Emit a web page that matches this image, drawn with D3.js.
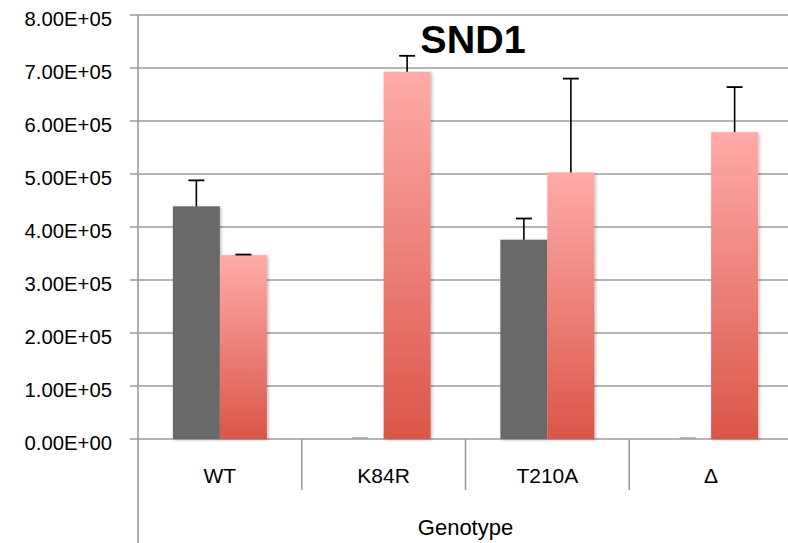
<!DOCTYPE html>
<html>
<head>
<meta charset="utf-8">
<script src="https://cdn.jsdelivr.net/npm/d3@7"></script>
<style>
  html, body { margin: 0; padding: 0; background: #fff; }
  svg { display: block; }
  text { font-family: "Liberation Sans", Arial, sans-serif; fill: #000; }
</style>
</head>
<body>
<svg id="chart" width="788" height="543"></svg>
<script>
// ---- data ----
const categories = ["WT", "K84R", "T210A", "\u0394"];
const seriesNames = ["control", "treated"];
const grayValues = [4.39e5, 0, 3.76e5, 0];
const grayErrors = [0.49e5, 0, 0.40e5, 0];
const pinkValues = [3.47e5, 6.93e5, 5.03e5, 5.79e5];
const pinkErrors = [0.01e5, 0.30e5, 1.77e5, 0.85e5];
const yTicks = [0, 1e5, 2e5, 3e5, 4e5, 5e5, 6e5, 7e5, 8e5];
const titleText = "SND1";
const xAxisTitle = "Genotype";

// ---- layout ----
const W = 788, H = 543;
const plotLeft = 138, plotRight = 793, plotTop = 15, plotBottom = 439;

const svg = d3.select("#chart");

const defs = svg.append("defs");
const grad = defs.append("linearGradient").attr("id", "pinkGrad")
  .attr("x1", 0).attr("y1", 0).attr("x2", 0).attr("y2", 1);
grad.append("stop").attr("offset", "0%").attr("stop-color", "#FFABA8");
grad.append("stop").attr("offset", "100%").attr("stop-color", "#DA5649");
grad.attr("gradientUnits", "objectBoundingBox");

const shadow = defs.append("filter").attr("id", "shadow")
  .attr("x", "-20%").attr("y", "-5%").attr("width", "150%").attr("height", "115%");
shadow.append("feDropShadow").attr("dx", 1.5).attr("dy", 1).attr("stdDeviation", 1.5)
  .attr("flood-color", "#000").attr("flood-opacity", 0.25);

const y = d3.scaleLinear().domain([0, 8e5]).range([plotBottom, plotTop]);
const x0 = d3.scaleBand().domain(categories).range([plotLeft, plotRight]).paddingInner(0).paddingOuter(0);
const x1 = d3.scaleBand().domain(seriesNames).range([0, x0.bandwidth()]).paddingInner(0).paddingOuter(0.742);

// gridlines
const fmt = v => {
  const e = v === 0 ? 0 : Math.floor(Math.log10(v));
  const m = v === 0 ? 0 : v / Math.pow(10, e);
  return m.toFixed(2) + "E+" + String(e).padStart(2, "0");
};

const grid = svg.append("g");
grid.selectAll("line").data(yTicks).join("line")
  .attr("x1", plotLeft - 8).attr("x2", W)
  .attr("y1", d => y(d)).attr("y2", d => y(d))
  .attr("stroke", "#9c9c9c").attr("stroke-width", 1.6);

grid.selectAll("text").data(yTicks).join("text")
  .attr("x", 112).attr("y", d => y(d) + 11)
  .attr("text-anchor", "end")
  .attr("font-size", 20.3)
  .text(d => fmt(d));

// y axis line
svg.append("line")
  .attr("x1", plotLeft).attr("x2", plotLeft)
  .attr("y1", plotTop).attr("y2", H)
  .attr("stroke", "#9c9c9c").attr("stroke-width", 1.6);

// category separators
const seps = categories.slice(1).map(c => x0(c));
svg.append("g").selectAll("line").data(seps).join("line")
  .attr("x1", d => d).attr("x2", d => d)
  .attr("y1", plotBottom).attr("y2", 490)
  .attr("stroke", "#9c9c9c").attr("stroke-width", 1.6);

// bars
const rows = categories.map((c, i) => ({
  cat: c,
  items: [
    { s: "control", v: grayValues[i], e: grayErrors[i] },
    { s: "treated", v: pinkValues[i], e: pinkErrors[i] }
  ]
}));

const groups = svg.append("g").selectAll("g").data(rows).join("g")
  .attr("transform", d => `translate(${x0(d.cat)},0)`);

groups.selectAll("rect").data(d => d.items.filter(it => it.v > 0)).join("rect")
  .attr("x", d => x1(d.s))
  .attr("width", x1.bandwidth())
  .attr("y", d => y(d.v))
  .attr("height", d => y(0) - y(d.v))
  .attr("fill", d => d.s === "control" ? "#696969" : "url(#pinkGrad)")
  .attr("filter", "url(#shadow)");

// zero-value stubs
groups.selectAll("line.stub").data(d => d.items.filter(it => it.v === 0)).join("line")
  .attr("class", "stub")
  .attr("x1", d => x1(d.s) + x1.bandwidth() / 2 - 8)
  .attr("x2", d => x1(d.s) + x1.bandwidth() / 2 + 8)
  .attr("y1", y(0) - 1).attr("y2", y(0) - 1)
  .attr("stroke", "#a8a8a8").attr("stroke-width", 1.6);

// error bars
const errs = groups.selectAll("g.err").data(d => d.items.filter(it => it.v > 0)).join("g").attr("class", "err");
errs.append("line")
  .attr("x1", d => x1(d.s) + x1.bandwidth() / 2)
  .attr("x2", d => x1(d.s) + x1.bandwidth() / 2)
  .attr("y1", d => y(d.v)).attr("y2", d => y(d.v + d.e))
  .attr("stroke", "#000").attr("stroke-width", 1.6);
errs.append("line")
  .attr("x1", d => x1(d.s) + x1.bandwidth() / 2 - 8)
  .attr("x2", d => x1(d.s) + x1.bandwidth() / 2 + 8)
  .attr("y1", d => y(d.v + d.e)).attr("y2", d => y(d.v + d.e))
  .attr("stroke", "#000").attr("stroke-width", 1.8);

// category labels
svg.append("g").selectAll("text").data(categories).join("text")
  .attr("x", d => x0(d) + x0.bandwidth() / 2)
  .attr("y", 483)
  .attr("text-anchor", "middle")
  .attr("font-size", 21)
  .text(d => d);

// axis title
svg.append("text")
  .attr("x", (plotLeft + plotRight) / 2)
  .attr("y", 535)
  .attr("text-anchor", "middle")
  .attr("font-size", 22)
  .text(xAxisTitle);

// chart title
svg.append("text")
  .attr("x", 473)
  .attr("y", 53)
  .attr("text-anchor", "middle")
  .attr("font-size", 39.5)
  .attr("font-weight", "bold")
  .text(titleText);
</script>
</body>
</html>
